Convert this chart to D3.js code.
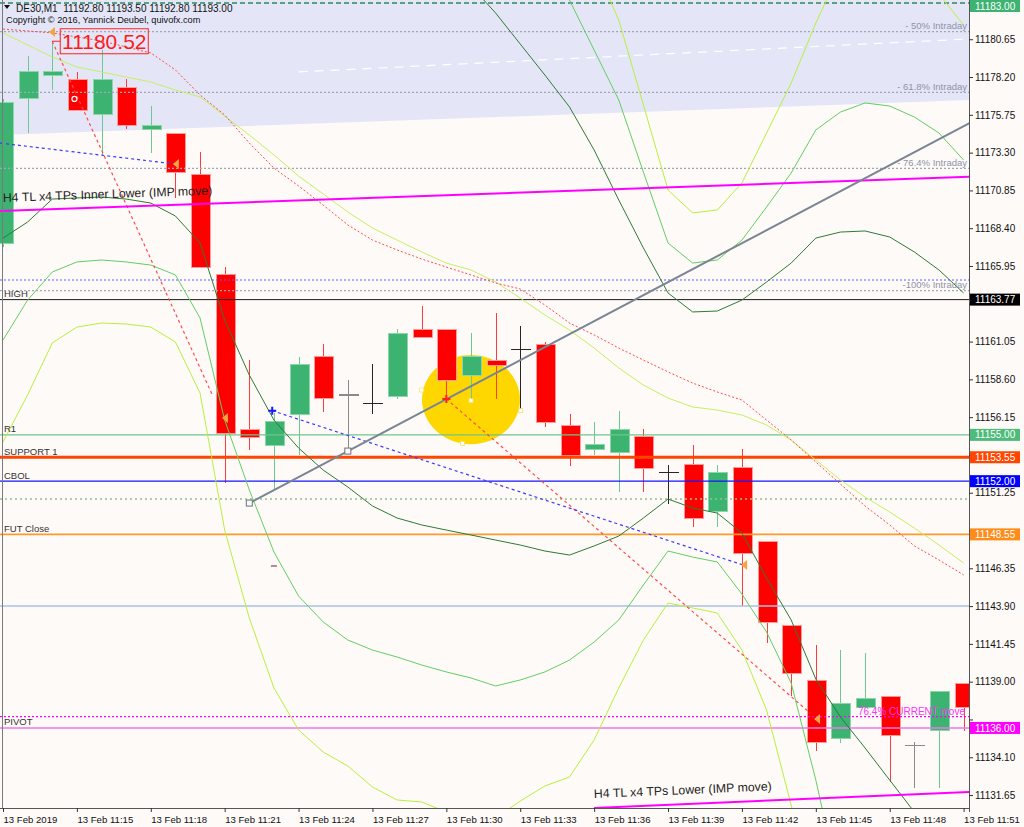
<!DOCTYPE html>
<html><head><meta charset="utf-8">
<script src="https://cdn.jsdelivr.net/npm/d3@7/dist/d3.min.js"></script>
<style>
html,body{margin:0;padding:0;background:#fefaf8;}
svg{display:block;font-family:"Liberation Sans",Arial,sans-serif;}
</style></head><body>
<svg id="chart" width="1024" height="827"></svg>
<script>
// ---------------- DATA ----------------
const xTickIdx = [0,3,6,9,12,15,18,21,24,27,30,33,36,39];
const xTickLabels = ["13 Feb 2019","13 Feb 11:15","13 Feb 11:18","13 Feb 11:21","13 Feb 11:24","13 Feb 11:27","13 Feb 11:30","13 Feb 11:33","13 Feb 11:36","13 Feb 11:39","13 Feb 11:42","13 Feb 11:45","13 Feb 11:48","13 Feb 11:51"];
const yTicks = [11131.65,11134.10,11136.55,11139.00,11141.45,11143.90,11146.35,11148.80,11151.25,11153.70,11156.15,11158.60,11161.05,11163.50,11165.95,11168.40,11170.85,11173.30,11175.75,11178.20,11180.65];

// one bar per minute, 11:12 .. 11:51
const opens  = [11167.38,11176.84,11178.33,11178.07,11175.80,11177.55,11174.83,11174.57,11171.85,11165.37,11155.38,11154.34,11156.35,11160.07,11157.57,11157.05,11157.52,11161.86,11161.86,11158.82,11159.85,11160.55,11160.87,11155.58,11154.02,11153.84,11154.88,11152.57,11153.05,11150.06,11152.87,11148.07,11142.61,11139.06,11135.33,11137.34,11138.07,11134.87,11135.82,11138.89];
const highs  = [11176.80,11179.56,11180.52,11178.53,11179.95,11178.07,11176.32,11174.57,11173.34,11165.88,11159.85,11156.42,11160.07,11160.89,11158.56,11159.59,11161.86,11163.38,11161.86,11161.60,11162.90,11162.06,11161.04,11156.35,11155.85,11156.55,11155.36,11153.05,11154.34,11153.05,11154.06,11148.07,11142.61,11141.38,11141.05,11140.88,11138.07,11135.11,11138.35,11138.89];
const lows   = [11167.20,11174.57,11177.36,11176.00,11173.15,11174.83,11173.28,11170.36,11165.82,11151.88,11154.02,11151.49,11153.69,11156.50,11153.95,11156.35,11157.33,11161.33,11157.07,11157.15,11157.33,11156.57,11155.53,11153.00,11153.69,11151.32,11151.32,11150.52,11149.01,11149.01,11143.92,11141.53,11138.07,11134.52,11135.04,11137.34,11132.51,11132.09,11132.09,11135.82];
const closes = [11176.58,11178.53,11178.59,11176.06,11178.07,11175.03,11175.09,11172.04,11165.82,11155.06,11154.86,11155.85,11159.59,11157.33,11157.57,11157.05,11161.59,11161.33,11158.51,11160.07,11159.53,11160.55,11155.81,11153.65,11154.39,11155.36,11152.83,11152.57,11149.55,11152.57,11147.32,11142.85,11139.54,11135.04,11137.60,11137.88,11135.54,11134.87,11138.35,11137.34];
const grayDojiIdx = [14,37];

// envelope / band lines (value per bar, from a start bar)
const darkUpperStart = 16;
const darkUpper = [11189.68,11187.08,11185.79,11184.10,11182.35,11180.34,11178.33,11176.26,11173.47,11170.23,11167.12,11164.20,11162.97,11163.03,11163.74,11164.91,11166.14,11167.76,11168.15,11168.22,11167.83,11166.86,11165.69,11164.20];
const darkLowerStart = 0;
const darkLower = [11167.76,11168.80,11170.29,11170.36,11170.42,11170.29,11170.03,11169.19,11167.44,11162.45,11158.88,11155.96,11154.15,11152.72,11151.62,11150.39,11149.61,11149.16,11148.83,11148.51,11148.18,11147.86,11147.47,11147.21,11147.80,11148.44,11149.61,11150.84,11150.26,11149.93,11148.64,11145.72,11143.00,11139.17,11136.71,11134.70,11132.62,11130.55,11128.41];
const midUpperStart = 22;
const midUpper = [11187.08,11183.19,11179.95,11176.71,11172.04,11167.44,11166.14,11166.34,11167.63,11169.77,11171.98,11174.77,11175.93,11176.52,11176.32,11175.61,11174.57,11172.82];
const midLowerStart = 0;
const midLower = [11161.15,11163.74,11165.56,11166.21,11166.34,11166.21,11166.01,11165.37,11162.58,11155.96,11151.43,11147.41,11144.55,11142.87,11141.70,11141.05,11140.60,11140.08,11139.63,11139.24,11138.72,11139.11,11139.63,11140.40,11141.57,11143.00,11145.27,11147.47,11147.08,11146.76,11144.68,11142.22,11138.91,11132.62,11125.49];
const lightUpperStart = 23;
const lightUpper = [11185.79,11185.46,11181.90,11176.39,11170.88,11169.39,11169.58,11171.33,11174.57,11177.81,11181.70,11185.14,11187.08,11187.41,11185.79,11183.58,11181.57];
const lightLowerStart = 0;
const lightLower = [11154.54,11157.59,11160.96,11161.99,11162.25,11162.19,11161.99,11161.02,11157.72,11148.83,11143.13,11138.59,11135.87,11134.44,11133.53,11132.17,11131.33,11131.20,11130.55,11129.25,11130.16,11131.26,11132.24,11132.82,11135.22,11138.59,11141.70,11144.10,11143.78,11143.45,11141.05,11137.16,11131.00,11124.84];
const lightMid = [11181.06,11180.28,11179.50,11178.85,11178.53,11178.20,11177.88,11177.36,11176.91,11175.67,11174.44,11173.15,11171.78,11170.62,11169.45,11168.41,11167.63,11166.86,11166.14,11165.69,11164.91,11163.87,11162.77,11161.80,11160.63,11159.34,11158.23,11157.39,11156.81,11156.61,11156.29,11155.64,11154.67,11153.37,11152.07,11150.97,11150.00,11148.96,11147.86,11146.69];
const redMA = [11181.31,11181.19,11181.06,11180.80,11180.54,11180.15,11179.76,11178.66,11177.04,11175.74,11173.92,11172.30,11171.14,11169.90,11168.61,11167.63,11166.99,11166.40,11165.88,11165.37,11164.85,11164.46,11163.42,11162.25,11161.48,11160.63,11159.85,11159.08,11158.36,11157.78,11157.26,11155.96,11154.67,11153.24,11151.81,11150.39,11149.16,11147.80,11146.89,11145.92];

// horizontal levels
const levelNames  = ["top","50% Intraday","61.8% Intraday","76.4% Intraday","blue100","100% Intraday","HIGH","R1","SUPPORT 1","CBOL","greenDot","FUT Close","steel","76.4% CURRENT move","PIVOT"];
const levelPrices = [11183.00,11181.14,11177.21,11172.28,11165.04,11164.35,11163.77,11155.00,11153.55,11152.00,11150.84,11148.55,11143.90,11136.73,11136.00];
const levelLeftText  = ["","","","","","","HIGH","R1","SUPPORT 1","CBOL","","FUT Close","","","PIVOT"];
const levelRightText = ["","- 50% Intraday","- 61.8% Intraday","- 76.4% Intraday","","-100% Intraday","","","","","","","","76.4% CURRENT move",""];
const axisTagPrices = [11183.00,11163.77,11155.00,11153.55,11152.00,11148.55,11136.00];

// drawn objects: [barIndex, price] pairs
const grayTrend   = [[10,11150.58],[14,11153.95]];
const tlInner     = [[-0.12,11169.51],[39.22,11171.74]];
const tlLower     = [[24,11130.81],[39.22,11131.85]];
const blueDot1    = [[-0.12,11173.92],[7.0,11172.56]];
const blueDot2    = [[10.93,11156.57],[30.06,11146.56]];
const redSteep    = [[2,11180.52],[8.5,11157.58]];
const redRay      = [[18,11157.33],[32.77,11136.97]];
const whiteDash   = [[12,11178.53],[39.22,11180.67]];
const shadeTop    = 11184.0;
const shadeBottom = [[-0.2,11174.44],[39.4,11176.72]];
const ellipseC    = [19,11157.29];
const ellipseR    = [1.99,2.89];
const ellipseAnchors = [[17.0,11157.91],[19.0,11157.22],[21.02,11156.57],[18.66,11154.45]];
const orangeMarks = [[2.03,11181.12],[7.06,11172.56],[9.05,11156.09],[30.13,11146.56],[33.09,11136.58]];
const priceLabel  = [2,11180.52];
const tlInnerText = "H4 TL x4 TPs Inner Lower (IMP move)";
const tlLowerText = "H4 TL x4 TPs Lower (IMP move)";

// ---------------- CHART ----------------
const svg = d3.select("#chart");
const PR = 969, PB = 808;
const x = d3.scaleLinear().domain([0,39]).range([3,963.6]);
const y = d3.scaleLinear().domain([11130.81,11183.0]).range([PB,3]);

svg.append("rect").attr("width",1024).attr("height",827).attr("fill","#fefaf8");
svg.append("defs").append("clipPath").attr("id","clip")
  .append("rect").attr("x",0).attr("y",0).attr("width",PR).attr("height",PB);
const g = svg.append("g").attr("clip-path","url(#clip)");

const line = d3.line().x(d=>x(d[0])).y(d=>y(d[1]));
function extend(pts, x0, x1){
  const [a,b]=pts, s=(b[1]-a[1])/(b[0]-a[0]);
  return [[x0,a[1]+s*(x0-a[0])],[x1,a[1]+s*(x1-a[0])]];
}

// shaded zone
g.append("path")
  .attr("d", line([[shadeBottom[0][0],shadeTop],[shadeBottom[1][0],shadeTop],shadeBottom[1],shadeBottom[0]]))
  .attr("fill","#e4e6f8");
g.append("path").attr("d",line(whiteDash)).attr("stroke","#ffffff").attr("stroke-width",1.2)
  .attr("stroke-dasharray","9,7").attr("fill","none");

// yellow ellipse
g.append("ellipse").attr("cx",x(ellipseC[0])).attr("cy",y(ellipseC[1]))
  .attr("rx",x(ellipseC[0]+ellipseR[0])-x(ellipseC[0]))
  .attr("ry",y(ellipseC[1]-ellipseR[1])-y(ellipseC[1]))
  .attr("fill","#ffd700");

// candles
const bw = 19;
const cg = g.append("g").attr("shape-rendering","crispEdges");
opens.forEach((o,i)=>{
  const h=highs[i], l=lows[i], c=closes[i], cx=Math.round(x(i))+0.5;
  if (o===c){
    const col = grayDojiIdx.includes(i) ? "#8a8a8a" : "#262626";
    cg.append("line").attr("x1",cx).attr("x2",cx).attr("y1",y(h)).attr("y2",y(l)).attr("stroke",col).attr("stroke-width",1.5);
    cg.append("line").attr("x1",cx-10).attr("x2",cx+10).attr("y1",y(o)).attr("y2",y(o)).attr("stroke",col).attr("stroke-width",1.5);
    return;
  }
  const bull = c>o;
  cg.append("line").attr("x1",cx).attr("x2",cx).attr("y1",y(h)).attr("y2",y(l))
    .attr("stroke", bull ? "#6cc990" : "#ff3b3b").attr("stroke-width",1);
  const top=y(Math.max(o,c)), bot=y(Math.min(o,c));
  cg.append("rect").attr("x",cx-bw/2).attr("y",top).attr("width",bw).attr("height",Math.max(2,bot-top))
    .attr("fill", bull ? "#3cb371" : "#ff0000")
    .attr("stroke", bull ? "#8ad8a8" : "#ff9a9a").attr("stroke-width",1);
});

// horizontal levels
const levelStyle = {
  "top":{c:"#2e8b57",w:1.5,d:"5,3"},
  "50% Intraday":{c:"#a2a6b4",w:1.2,d:"2,2"},
  "61.8% Intraday":{c:"#a2a6b4",w:1.2,d:"2,2"},
  "76.4% Intraday":{c:"#a2a6b4",w:1.2,d:"2,2"},
  "blue100":{c:"#5a5aff",w:1.2,d:"2,2"},
  "100% Intraday":{c:"#a2a6b4",w:1.2,d:"2,2"},
  "HIGH":{c:"#1a1a1a",w:1,d:null},
  "R1":{c:"#6cc58c",w:1.2,d:null},
  "SUPPORT 1":{c:"#ff4500",w:3,d:null},
  "CBOL":{c:"#1414ff",w:1.2,d:null},
  "greenDot":{c:"#8fc28f",w:1.5,d:"2,3"},
  "FUT Close":{c:"#ff9a2a",w:1.6,d:null},
  "steel":{c:"#a8c0e4",w:1.5,d:null},
  "76.4% CURRENT move":{c:"#ff00ff",w:1.2,d:"2,2"},
  "PIVOT":{c:"#ee77ee",w:1.5,d:null}
};
levelPrices.forEach((p,i)=>{
  const st=levelStyle[levelNames[i]];
  g.append("line").attr("x1",0).attr("x2",PR).attr("y1",y(p)).attr("y2",y(p))
    .attr("stroke",st.c).attr("stroke-width",st.w).attr("stroke-dasharray",st.d);
});

// band lines
function band(start, vals){ return vals.map((v,k)=>[start+k,v]); }
const bands = [
  {d:band(lightLowerStart,lightLower),c:"#b8f03c"},
  {d:band(lightUpperStart,lightUpper),c:"#b8f03c"},
  {d:band(0,lightMid),c:"#c6f060"},
  {d:band(midLowerStart,midLower),c:"#62cf62"},
  {d:band(midUpperStart,midUpper),c:"#62cf62"},
  {d:band(darkLowerStart,darkLower),c:"#2f7a34"},
  {d:band(darkUpperStart,darkUpper),c:"#2f7a34"}
];
bands.forEach(b=>g.append("path").attr("d",line(b.d)).attr("fill","none").attr("stroke",b.c).attr("stroke-width",1));
g.append("path").attr("d",line(redMA.map((v,k)=>[k,v]))).attr("fill","none")
  .attr("stroke","#ff4a4a").attr("stroke-width",1).attr("stroke-dasharray","2,2");

// dotted objects
[[redSteep,"#ff4a4a"],[redRay,"#ff4a4a"],[blueDot1,"#3a3aff"],[blueDot2,"#3a3aff"]].forEach(([p,c])=>{
  g.append("path").attr("d",line(p)).attr("fill","none").attr("stroke",c).attr("stroke-width",1.2).attr("stroke-dasharray","3,3");
});

// magenta trend lines
g.append("path").attr("d",line(extend(tlInner,-1,40))).attr("stroke","#ff00ff").attr("stroke-width",2).attr("fill","none");
g.append("path").attr("d",line(extend(tlLower,tlLower[0][0],40))).attr("stroke","#ff00ff").attr("stroke-width",2).attr("fill","none");

// gray trend ray
g.append("path").attr("d",line(extend(grayTrend,grayTrend[0][0],40))).attr("stroke","#7a8594").attr("stroke-width",2).attr("fill","none");
grayTrend.forEach(p=>g.append("rect").attr("x",x(p[0])-3).attr("y",y(p[1])-3).attr("width",6).attr("height",6)
  .attr("fill","#fefaf8").attr("stroke","#6a7380").attr("stroke-width",1));

// markers
ellipseAnchors.forEach(p=>g.append("rect").attr("x",x(p[0])-2).attr("y",y(p[1])-2).attr("width",4).attr("height",4)
  .attr("fill","#ffffff").attr("stroke","#f5e070").attr("stroke-width",0.8));
orangeMarks.forEach(p=>{
  const px=x(p[0]), py=y(p[1]);
  g.append("path").attr("d",`M${px-4},${py} L${px+2},${py-5} L${px+2},${py+5} Z`).attr("fill","#f3a640");
});
function cross(p,c){
  const px=x(p[0]), py=y(p[1]);
  g.append("path").attr("d",`M${px-4},${py}H${px+4}M${px},${py-4}V${py+4}`).attr("stroke",c).attr("stroke-width",2);
}
cross(blueDot2[0],"#1a1aff");
cross(redRay[0],"#ff2020");
g.append("circle").attr("cx",x(2.9)).attr("cy",y(11176.78)).attr("r",2.5).attr("fill","none").attr("stroke","#ffffff").attr("stroke-width",1.2);
g.append("line").attr("x1",x(11)-3).attr("x2",x(11)+3).attr("y1",y(11146.5)).attr("y2",y(11146.5)).attr("stroke","#702020").attr("stroke-width",1);

// price label box
const plx = x(priceLabel[0]), ply = y(priceLabel[1]);
g.append("line").attr("x1",plx).attr("x2",plx+8).attr("y1",ply).attr("y2",ply).attr("stroke","#ff2020").attr("stroke-width",1);
g.append("rect").attr("x",plx+8).attr("y",ply-12.5).attr("width",88).attr("height",25)
  .attr("fill","none").attr("stroke","#ff2020").attr("stroke-width",1);
g.append("text").attr("x",plx+52).attr("y",ply+7.5).attr("text-anchor","middle")
  .attr("font-size",21).attr("fill","#ff1a1a").text("11180.52");

// level texts
const tg = svg.append("g").attr("font-size",9.5);
levelPrices.forEach((p,i)=>{
  if (levelLeftText[i]) tg.append("text").attr("x",4).attr("y",y(p)-2.5).attr("fill","#333").text(levelLeftText[i]);
  if (levelRightText[i]) {
    const cur = levelNames[i]==="76.4% CURRENT move";
    tg.append("text").attr("x",cur?965:967).attr("y",y(p)-(cur?1.5:2.5)).attr("text-anchor","end")
      .attr("fill",cur?"#ff33ff":"#8e93a6").attr("font-size",cur?10:9.5).text(levelRightText[i]);
  }
});

// trend line labels
function tlLabel(pts, txt, dx, off){
  const a=[x(pts[0][0]),y(pts[0][1])], b=[x(pts[1][0]),y(pts[1][1])];
  const ang = Math.atan2(b[1]-a[1], b[0]-a[0])*180/Math.PI;
  const sx = dx, sy = a[1] + (b[1]-a[1])/(b[0]-a[0])*(dx-a[0]) - off;
  svg.append("text").attr("x",sx).attr("y",sy).attr("font-size",12.3).attr("fill","#1e1e1e")
    .attr("transform",`rotate(${ang},${sx},${sy})`).text(txt);
}
tlLabel(tlInner, tlInnerText, 3, 9);
tlLabel(tlLower, tlLowerText, x(tlLower[0][0]), 10);

// axes frame
svg.append("line").attr("x1",2.5).attr("x2",2.5).attr("y1",0).attr("y2",PB).attr("stroke","#7a7a7a");
svg.append("line").attr("x1",PR+0.5).attr("x2",PR+0.5).attr("y1",0).attr("y2",PB+4).attr("stroke","#555");
svg.append("line").attr("x1",0).attr("x2",PR).attr("y1",PB+0.5).attr("y2",PB+0.5).attr("stroke","#555");

// y axis ticks & labels (labels hidden where a coloured price tag covers them)
const ya = svg.append("g").attr("transform",`translate(${PR},0)`)
  .call(d3.axisRight(y).tickValues(yTicks).tickFormat(d3.format(".2f")).tickSize(4).tickPadding(2));
ya.select(".domain").remove();
ya.selectAll("text").attr("font-size",10).attr("fill","#111").attr("font-family","Liberation Sans, Arial, sans-serif")
  .attr("display",d=>axisTagPrices.some(p=>Math.abs(y(p)-y(d))<11) ? "none" : null);
ya.selectAll("line").attr("stroke","#333");

// x axis ticks & labels
const xa = svg.append("g").attr("transform",`translate(0,${PB})`)
  .call(d3.axisBottom(x).tickValues(xTickIdx).tickFormat((d,i)=>xTickLabels[i]).tickSize(4).tickPadding(2));
xa.select(".domain").remove();
xa.selectAll("text").attr("text-anchor","start").attr("font-size",9.6).attr("fill","#111")
  .attr("font-family","Liberation Sans, Arial, sans-serif").attr("dy","0.9em");
xa.selectAll("line").attr("stroke","#333");

// axis colored tags
const tagBg = ["#3cb371","#000000","#4dbb7a","#ff4500","#0000ff","#ff8c1a","#ff00ff"];
axisTagPrices.forEach((p,i)=>{
  const ty=Math.max(6,y(p));
  svg.append("rect").attr("x",PR+1).attr("y",ty-6).attr("width",50).attr("height",12).attr("fill",tagBg[i]);
  svg.append("text").attr("x",PR+6).attr("y",ty+3.6).attr("font-size",10).attr("fill","#ffffff").text(d3.format(".2f")(p));
});

// header
svg.append("path").attr("d","M4,5 L10,5 L7,9 Z").attr("fill","#111");
svg.append("text").attr("x",16).attr("y",12).attr("font-size",10).attr("fill","#111")
  .style("white-space","pre").text("DE30,M1  11192.80 11193.50 11192.80 11193.00");
svg.append("text").attr("x",6).attr("y",22.5).attr("font-size",9.2).attr("fill","#111")
  .text("Copyright © 2016, Yannick Deubel, quivofx.com");
</script>
</body></html>
